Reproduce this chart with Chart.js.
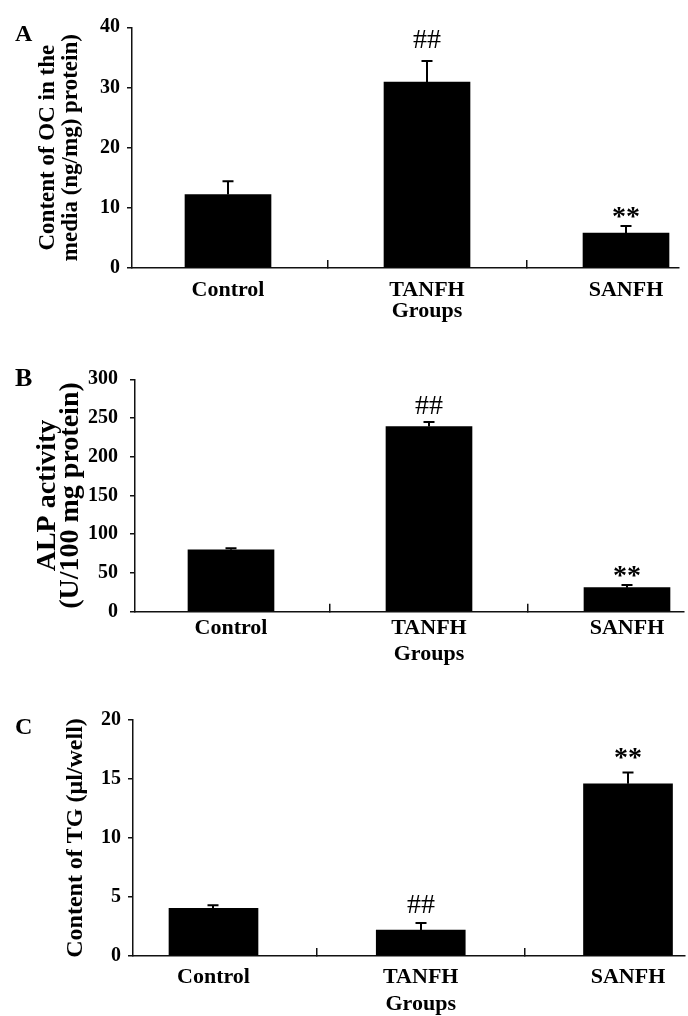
<!DOCTYPE html>
<html>
<head>
<meta charset="utf-8">
<script src="https://cdn.jsdelivr.net/npm/chart.js@4.4.1/dist/chart.umd.min.js"></script>
<style>
html,body{margin:0;padding:0;background:#fff;width:688px;height:1016px;overflow:hidden;position:relative;}
canvas.panel{position:absolute;left:0;}
.letter{position:absolute;left:15px;font-family:'Liberation Serif','Times New Roman',serif;font-weight:bold;line-height:1;color:#000;}
</style>
</head>
<body>
<canvas id="chartA" class="panel" style="top:0px" width="688" height="340"></canvas>
<canvas id="chartB" class="panel" style="top:340px" width="688" height="340"></canvas>
<canvas id="chartC" class="panel" style="top:680px" width="688" height="336"></canvas>
<div class="letter" style="top:21px;font-size:24px">A</div>
<div class="letter" style="top:365px;font-size:26px">B</div>
<div class="letter" style="top:714px;font-size:24px">C</div>
<script>
// ---------- data ----------
const categories = ['Control', 'TANFH', 'SANFH'];
const xAxisName = 'Groups';

const ocValues = [12.2, 30.9, 5.8];
const ocErrors = [2.2, 3.5, 1.2];
const ocMarkers = ['', '##', '**'];
const ocTickLabels = [0, 10, 20, 30, 40];

const alpValues = [80, 239, 31];
const alpErrors = [2, 6, 3.5];
const alpMarkers = ['', '##', '**'];
const alpTickLabels = [0, 50, 100, 150, 200, 250, 300];

const tgValues = [4.05, 2.2, 14.6];
const tgErrors = [0.25, 0.6, 0.95];
const tgMarkers = ['', '##', '**'];
const tgTickLabels = [0, 5, 10, 15, 20];

const ocTitle = ['Content of OC in the', 'media (ng/mg) protein)'];
const alpTitle = ['ALP activity', '(U/100 mg protein)'];
const tgTitle = 'Content of TG (\u03bcl/well)';

// ---------- rendering ----------
const FONT = "'Liberation Serif','Times New Roman',serif";
const xLabels = categories.map((c, i) => (i === 1 ? [c, xAxisName] : c));

const errorBarPlugin = {
  id: 'errorBars',
  afterDatasetsDraw(chart, args, opts) {
    const ctx = chart.ctx;
    const xs = chart.scales.x, ys = chart.scales.y;
    const data = chart.data.datasets[0].data;
    ctx.save();
    ctx.strokeStyle = '#000';
    ctx.fillStyle = '#000';
    ctx.lineWidth = 2;
    data.forEach((pt, i) => {
      const px = Math.round(xs.getPixelForValue(pt.x));
      const yv = ys.getPixelForValue(pt.y);
      const ye = ys.getPixelForValue(pt.y + opts.errors[i]);
      ctx.beginPath();
      ctx.moveTo(px, yv);
      ctx.lineTo(px, ye);
      ctx.moveTo(px - 5.5, ye);
      ctx.lineTo(px + 5.5, ye);
      ctx.stroke();
      const m = opts.markers[i];
      if (m) {
        ctx.font = (m.indexOf('*') >= 0 ? 'bold ' : '') + '28px ' + FONT;
        ctx.textAlign = 'center';
        ctx.textBaseline = 'alphabetic';
        ctx.fillText(m, px, ye - opts.markerGaps[i]);
      }
    });
    ctx.restore();
  }
};

function makePanel(id, p) {
  const ticks = p.tickLabels;
  return new Chart(document.getElementById(id), {
    type: 'bar',
    data: {
      datasets: [{
        data: p.values.map((v, i) => ({x: i, y: v})),
        backgroundColor: '#000',
        borderWidth: 0,
        barThickness: p.barWidth
      }]
    },
    options: {
      responsive: false,
      animation: false,
      events: [],
      layout: {padding: {top: p.top, right: 688 - p.right, bottom: 0, left: 0}},
      plugins: {
        legend: {display: false},
        tooltip: {enabled: false},
        errorBars: {errors: p.errors, markers: p.markers, markerGaps: p.markerGaps}
      },
      scales: {
        x: {
          type: 'linear',
          offset: false,
          min: p.xMin,
          max: p.xMax,
          bounds: 'data',
          afterBuildTicks: s => { s.ticks = categories.map((c, i) => ({value: i})); },
          afterFit: s => { s.height = p.xHeight; s.paddingLeft = 0; s.paddingRight = 0; },
          ticks: {
            autoSkip: false, maxRotation: 0, minRotation: 0,
            padding: p.xPad, color: '#000',
            font: {family: FONT, size: 22, weight: 'bold', lineHeight: p.xLine},
            callback: (v, i) => xLabels[i]
          },
          grid: {offset: true, drawOnChartArea: false, drawTicks: true, tickLength: -8, color: '#111', lineWidth: 1.5},
          border: {display: true, color: '#111', width: 1.5}
        },
        y: {
          min: ticks[0],
          max: ticks[ticks.length - 1],
          afterFit: s => { s.width = p.left; s.paddingTop = 0; s.paddingBottom = 0; },
          ticks: {
            stepSize: ticks[1] - ticks[0],
            padding: p.yPad, color: '#000',
            font: {family: FONT, size: 20, weight: 'bold'}
          },
          grid: {drawOnChartArea: false, drawTicks: true, tickLength: 5, color: '#111', lineWidth: 1.5},
          border: {display: true, color: '#111', width: 1.5},
          title: {
            display: true, text: p.title, color: '#000',
            font: {family: FONT, size: p.titleSize, weight: 'bold', lineHeight: p.titleLine},
            padding: {top: p.titlePad, bottom: 0}
          }
        }
      }
    },
    plugins: [errorBarPlugin]
  });
}

makePanel('chartA', {
  values: ocValues, errors: ocErrors, markers: ocMarkers, markerGaps: [0, 13, 1],
  tickLabels: ocTickLabels, title: ocTitle, titleSize: 23, titleLine: 22.5 / 23, titlePad: 37,
  top: 27.3, right: 679, left: 132, xHeight: 72,
  xMin: -0.4824, xMax: 2.2663, barWidth: 86,
  xPad: 20.4, xLine: 20.6 / 22, yPad: 7
});
makePanel('chartB', {
  values: alpValues, errors: alpErrors, markers: alpMarkers, markerGaps: [0, 8, 1.2],
  tickLabels: alpTickLabels, title: alpTitle, titleSize: 28, titleLine: 23.5 / 28, titlePad: 35.75,
  top: 39.3, right: 684, left: 135, xHeight: 68.3,
  xMin: -0.4848, xMax: 2.2879, barWidth: 86,
  xPad: 12.1, xLine: 26 / 22, yPad: 12
});
makePanel('chartC', {
  values: tgValues, errors: tgErrors, markers: tgMarkers, markerGaps: [0, 9.7, 7],
  tickLabels: tgTickLabels, title: tgTitle, titleSize: 24, titleLine: 1, titlePad: 64,
  top: 40, right: 685, left: 133, xHeight: 60,
  xMin: -0.3884, xMax: 2.2750, barWidth: 89,
  xPad: 15.85, xLine: 26.7 / 22, yPad: 7
});
</script>
</body>
</html>
